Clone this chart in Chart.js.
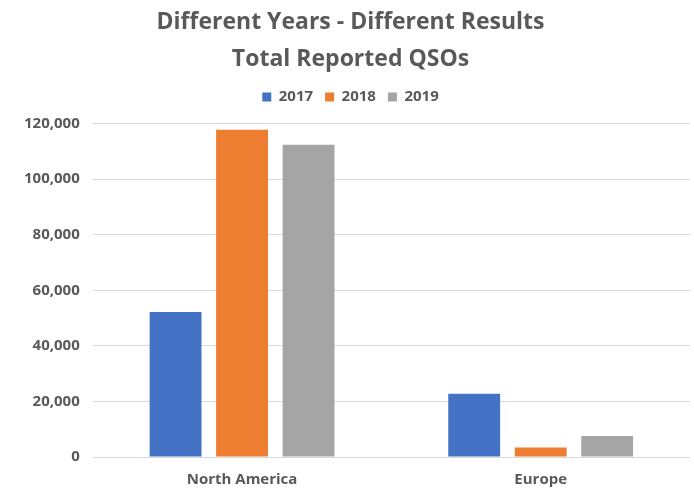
<!DOCTYPE html>
<html><head><meta charset="utf-8">
<script src="https://cdn.jsdelivr.net/npm/chart.js@4/dist/chart.umd.min.js"></script>
<style>html,body{margin:0;padding:0;background:#fff}#wrap{width:694px;height:489px;position:relative}</style>
</head><body><div id="wrap"><canvas id="c"></canvas></div>
<script>
const categories = ["North America", "Europe"];
const seriesNames = ["2017", "2018", "2019"];
const values2017 = [52200, 22800];
const values2018 = [117800, 3400];
const values2019 = [112400, 7600];
const yTicks = [0, 20000, 40000, 60000, 80000, 100000, 120000];
const colors = ["#4472C4", "#ED7D31", "#A5A5A5"];
const txt = "#595959";
const fam = "'Open Sans', 'Liberation Sans', sans-serif";
const legendGap = {
  id: 'legendGap',
  beforeUpdate(chart) {
    const lg = chart.legend;
    if (lg && !lg._gapPatched) {
      const f = lg.fit.bind(lg);
      lg.fit = function () { f(); this.height += 9; };
      lg._gapPatched = true;
    }
  }
};
new Chart(document.getElementById('c'), {
  type: 'bar',
  data: {
    labels: categories,
    datasets: [values2017, values2018, values2019].map((v, i) => ({
      label: seriesNames[i], data: v, backgroundColor: colors[i],
      categoryPercentage: 0.668, barPercentage: 0.78
    }))
  },
  plugins: [legendGap],
  options: {
    responsive: true, maintainAspectRatio: false, animation: false,
    layout: { padding: { left: 11, right: 4, top: 4, bottom: 0 } },
    plugins: {
      title: { display: true, text: ["Different Years - Different Results", "Total Reported QSOs"],
        color: txt, font: { family: fam, size: 23, weight: 'bold', lineHeight: 1.6 }, padding: { top: 0, bottom: 0 } },
      legend: { labels: { color: txt, boxWidth: 9, boxHeight: 9, font: { family: fam, size: 15, weight: 'bold' }, padding: 12 } },
      tooltip: { enabled: false }
    },
    scales: {
      x: { grid: { display: false, drawTicks: false }, border: { display: false },
        afterFit: s => { s.height = 32; },
        ticks: { color: txt, font: { family: fam, size: 15, weight: 'bold' }, padding: 14 } },
      y: { min: 0, max: 120000, afterBuildTicks: a => { a.ticks = yTicks.map(v => ({ value: v })); },
        grid: { color: "#d9d9d9", drawTicks: false }, border: { display: false },
        ticks: { color: txt, padding: 13, font: { family: fam, size: 15, weight: 'bold' },
          callback: v => v.toLocaleString('en-US') } }
    }
  }
});
</script></body></html>
